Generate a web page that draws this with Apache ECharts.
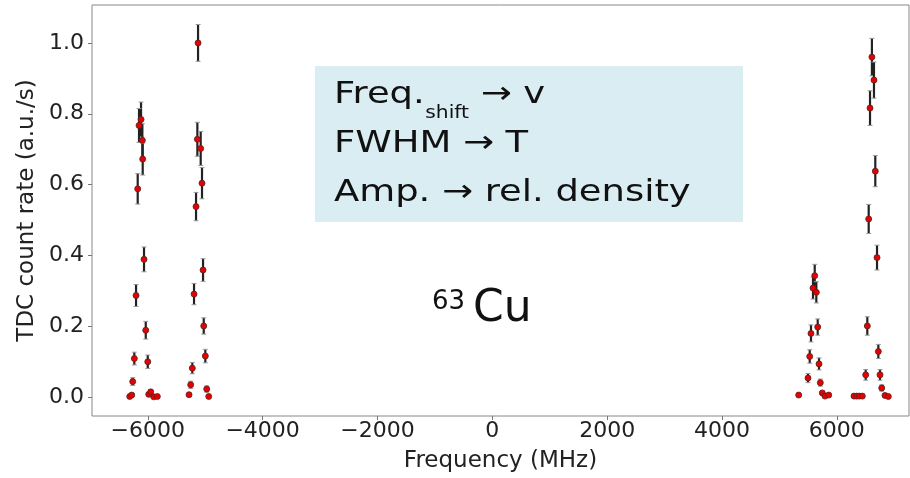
<!DOCTYPE html>
<html>
<head>
<meta charset="utf-8">
<script src="https://cdn.jsdelivr.net/npm/echarts@6/dist/echarts.min.js"></script>
<style>html,body{margin:0;padding:0;background:#fff}#c{width:910px;height:478px}</style>
</head>
<body>
<div id="c"></div>
<script>
// Frequency (MHz), rate (a.u./s), and error bar half-heights
const freqMHz = [
  -6118,-6153,-6095,-6089,-6176,-6066,-6205,-6036,-6235,-6001,-6263,-6315,-6280,-5984,-5949,-5897,-5834,
  -5125,-5137,-5079,-5056,-5160,-5038,-5195,-5026,-4998,-5225,-5253,-5282,-4974,-4939,
  5615,5585,5643,5550,5667,5528,5690,5498,5712,5336,5747,5794,5859,
  6611,6647,6578,6670,6555,6700,6531,6723,6503,6752,6782,6299,6346,6392,6444,6839,6897
];
const rate = [
  0.784,0.767,0.725,0.672,0.588,0.389,0.287,0.189,0.109,0.100,0.044,0.002,0.006,0.008,0.015,0.001,0.002,
  1.000,0.728,0.702,0.604,0.538,0.359,0.291,0.201,0.116,0.082,0.035,0.007,0.023,0.002,
  0.343,0.308,0.296,0.180,0.198,0.115,0.094,0.054,0.041,0.006,0.012,0.003,0.006,
  0.960,0.895,0.816,0.638,0.503,0.394,0.201,0.129,0.063,0.063,0.026,0.003,0.003,0.003,0.003,0.005,0.002
];
const rateErr = [
  0.049,0.048,0.047,0.045,0.043,0.035,0.031,0.025,0.018,0.019,0.011,0.003,0.004,0.005,0.006,0.002,0.003,
  0.052,0.048,0.048,0.044,0.040,0.032,0.030,0.023,0.019,0.016,0.010,0.004,0.009,0.003,
  0.032,0.031,0.030,0.024,0.023,0.019,0.017,0.013,0.010,0.003,0.005,0.003,0.003,
  0.053,0.051,0.049,0.044,0.041,0.035,0.026,0.020,0.015,0.015,0.009,0.002,0.002,0.002,0.002,0.003,0.002
];
const xTicks = [-6000,-4000,-2000,0,2000,4000,6000];
const yTicks = [0.0,0.2,0.4,0.6,0.8,1.0];
const boxLines = ['Freq.', 'shift', ' \u2192 v', 'FWHM \u2192 T', 'Amp. \u2192 rel. density'];

const pts = freqMHz.map((f,i)=>[f, rate[i], rateErr[i]]);
const chart = echarts.init(document.getElementById('c'), null, {renderer:'canvas'});
const FONT = 'DejaVu Sans';
const fmtX = v => v < 0 ? '\u2212' + Math.abs(v) : String(v);

// measure helper for the annotation text layout
const mctx = document.createElement('canvas').getContext('2d');
function tw(t, size){ mctx.font = size + 'px "' + FONT + '"'; return mctx.measureText(t).width; }

const BF = 31, SF = 17, SX = 1.19;
const bx = 334;
const l1 = [bx, bx + (tw(boxLines[0],BF)+0.5)*SX, bx + (tw(boxLines[0],BF)+0.5+tw(boxLines[1],SF))*SX];

chart.setOption({
  animation:false,
  grid:{left:92,right:1,top:5,bottom:58,show:true,borderColor:'#888',borderWidth:1,backgroundColor:'transparent'},
  xAxis:{
    type:'value', min:-6972, max:7257,
    name:'Frequency (MHz)', nameLocation:'middle', nameGap:34,
    nameTextStyle:{fontFamily:FONT,fontSize:23,color:'#222'},
    axisLine:{show:false,onZero:false},
    axisTick:{show:true,length:4,lineStyle:{color:'#777'},customValues:xTicks},
    axisLabel:{fontFamily:FONT,fontSize:22,color:'#222',margin:4,customValues:xTicks,formatter:fmtX},
    splitLine:{show:false}
  },
  yAxis:{
    type:'value', min:-0.0531, max:1.107,
    name:'TDC count rate (a.u./s)', nameLocation:'middle', nameGap:39,
    nameTextStyle:{fontFamily:FONT,fontSize:23,color:'#222'},
    axisLine:{show:false,onZero:false},
    axisTick:{show:true,length:4,lineStyle:{color:'#777'},customValues:yTicks},
    axisLabel:{fontFamily:FONT,fontSize:22,color:'#222',margin:8,customValues:yTicks,formatter:v=>v.toFixed(1)},
    splitLine:{show:false}
  },
  series:[
    {
      type:'custom', data:pts, z:2, clip:true,
      renderItem:(params, api)=>{
        const x=api.value(0), y=api.value(1), e=api.value(2);
        const a=api.coord([x,y+e]), b=api.coord([x,y-e]);
        return {type:'group',children:[
          {type:'line',shape:{x1:a[0],y1:a[1],x2:b[0],y2:b[1]},style:{stroke:'#222',lineWidth:2.2}},
          {type:'line',shape:{x1:a[0]-2.5,y1:a[1],x2:a[0]+2.5,y2:a[1]},style:{stroke:'#999',lineWidth:1}},
          {type:'line',shape:{x1:b[0]-2.5,y1:b[1],x2:b[0]+2.5,y2:b[1]},style:{stroke:'#999',lineWidth:1}}
        ]};
      }
    },
    {
      type:'scatter', data:pts.map(p=>[p[0],p[1]]), z:3,
      symbol:'circle', symbolSize:6,
      itemStyle:{color:'#e80000',borderColor:'#552222',borderWidth:0.8,opacity:1}
    }
  ],
  graphic:[
    {type:'rect',left:315,top:66,shape:{width:428,height:156},style:{fill:'#daedf3'},z:10},
    {type:'text',x:l1[0],y:95,scaleX:SX,style:{text:boxLines[0],font:BF+'px "'+FONT+'"',fill:'#111',verticalAlign:'middle'},z:11},
    {type:'text',x:l1[1],y:114,scaleX:SX,style:{text:boxLines[1],font:SF+'px "'+FONT+'"',fill:'#111',verticalAlign:'middle'},z:11},
    {type:'text',x:l1[2],y:95,scaleX:SX,style:{text:boxLines[2],font:BF+'px "'+FONT+'"',fill:'#111',verticalAlign:'middle'},z:11},
    {type:'text',x:bx,y:144,scaleX:SX,style:{text:boxLines[3],font:BF+'px "'+FONT+'"',fill:'#111',verticalAlign:'middle'},z:11},
    {type:'text',x:bx,y:193,scaleX:SX,style:{text:boxLines[4],font:BF+'px "'+FONT+'"',fill:'#111',verticalAlign:'middle'},z:11},
    {type:'text',x:432,y:302,style:{text:'63',font:'26px "'+FONT+'"',fill:'#111',verticalAlign:'middle'},z:11},
    {type:'text',x:473,y:310,style:{text:'Cu',font:'44px "'+FONT+'"',fill:'#111',verticalAlign:'middle'},z:11}
  ]
});
</script>
</body>
</html>
